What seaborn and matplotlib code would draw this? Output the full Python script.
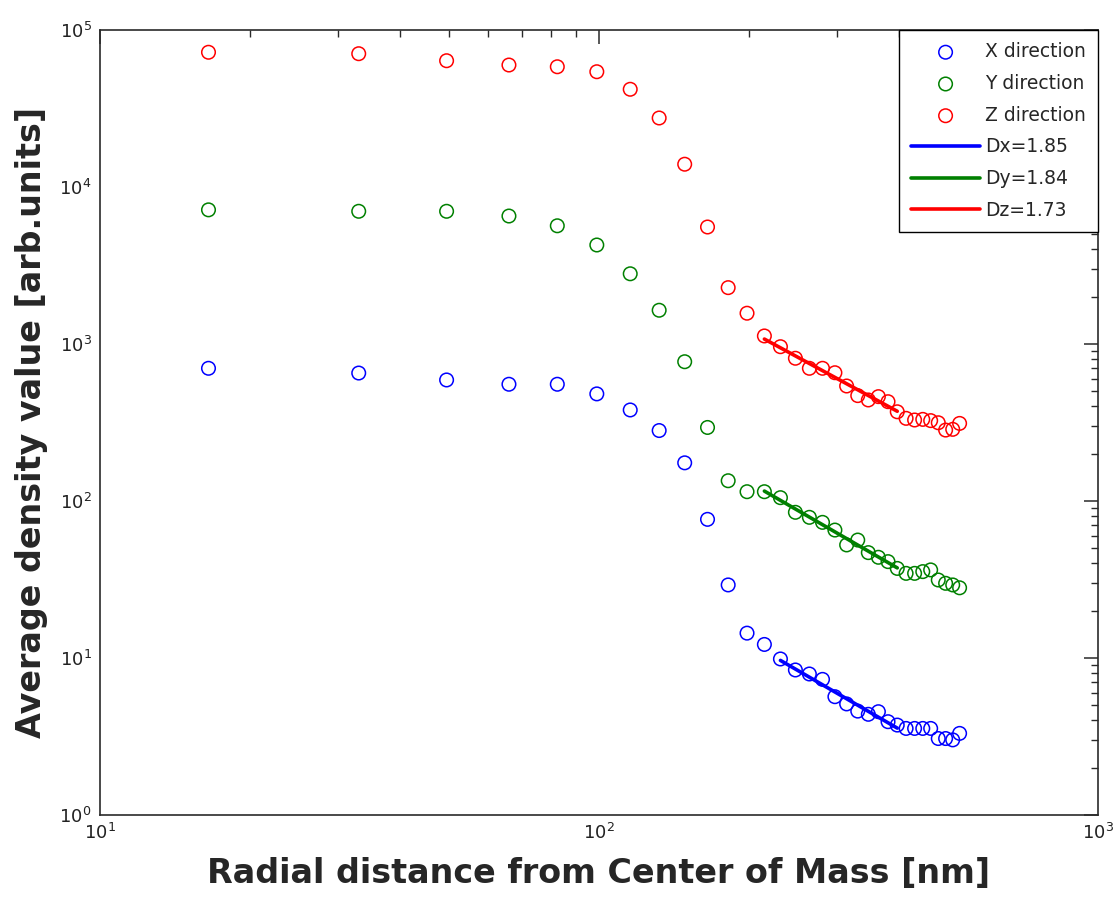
import numpy as np
import pandas as pd
import matplotlib
matplotlib.use("Agg")
import matplotlib.pyplot as plt
import seaborn as sns

# --- data -----------------------------------------------------------------

radius_nm = [16.5, 33, 49.5, 66, 82.5, 99, 115.5, 132, 148.5, 165, 181.5, 198,
             214.5, 231, 247.5, 264, 280.5, 297, 313.5, 330, 346.5, 363, 379.5,
             396, 412.5, 429, 445.5, 462, 478.5, 495, 511.5, 528]

density_x = [700, 653, 590, 554, 554, 481, 380, 281, 175, 76.4, 29.2, 14.4,
             12.2, 9.86, 8.39, 7.91, 7.31, 5.67, 5.10, 4.59, 4.38, 4.55, 3.93,
             3.74, 3.56, 3.56, 3.56, 3.56, 3.07, 3.07, 3.01, 3.31]

density_y = [7150, 7000, 7000, 6530, 5660, 4270, 2800, 1640, 771, 294, 134.6,
             114.6, 114.6, 105, 84.7, 78.7, 73.1, 65.3, 52.5, 56.4, 46.9, 43.8,
             41.1, 37.2, 34.6, 34.6, 35.5, 36.4, 31.4, 29.9, 29.2, 28.0]

density_z = [72100, 70600, 63700, 59800, 58300, 54200, 41900, 27500, 13960,
             5560, 2285, 1570, 1125, 961, 811, 700, 700, 656, 540, 469, 440,
             462, 429, 370, 336, 328, 331, 325, 315, 283, 286, 312]

directions = ["X direction", "Y direction", "Z direction"]
fit_labels = ["Dx=1.85", "Dy=1.84", "Dz=1.73"]
fit_ranges = [(225, 400), (210, 400), (210, 400)]   # nm, radii used in the fit

colors = ["#0000ff", "#008000", "#ff0000"]

# --- figure ----------------------------------------------------------------

sns.set_style("white")
plt.rcParams["font.family"] = ["DejaVu Sans"]
plt.rcParams["mathtext.fontset"] = "dejavusans"

fig = plt.figure(figsize=(11.17, 8.97), dpi=100)
ax = fig.add_axes([0.0895, 0.0914, 0.8935, 0.8752])
ax.set_xscale("log")
ax.set_yscale("log")

r = np.array(radius_nm)
for name, vals, col in zip(directions, [density_x, density_y, density_z], colors):
    sns.scatterplot(x=r, y=vals, ax=ax, marker="o", s=95, color=col,
                    facecolor="none", edgecolor=col, linewidth=1.1,
                    label=name, zorder=3)

for lab, vals, col, (lo, hi) in zip(fit_labels, [density_x, density_y, density_z],
                                    colors, fit_ranges):
    v = np.array(vals)
    m = (r >= lo) & (r <= hi)
    p = np.polyfit(np.log10(r[m]), np.log10(v[m]), 1)
    yfit = 10 ** np.polyval(p, np.log10(r[m]))
    sns.lineplot(x=r[m], y=yfit, ax=ax, color=col, linewidth=2.6,
                 label=lab, zorder=4)

ax.set_xlim(10, 1000)
ax.set_ylim(1, 1e5)

for s in ax.spines.values():
    s.set_color("#2a2a2a")
    s.set_linewidth(1.2)

ax.tick_params(which="both", direction="in", top=True, right=True,
               colors="#2a2a2a", labelcolor="#222222", labelsize=13)
ax.tick_params(which="major", length=10, width=1.1, pad=6)
ax.tick_params(which="minor", length=5, width=1.0)

ax.set_xlabel("Radial distance from Center of Mass [nm]", fontsize=24,
              fontweight="bold", labelpad=10)
ax.set_ylabel("Average density value [arb.units]", fontsize=24,
              fontweight="bold", labelpad=8)

leg = ax.legend(loc="upper right", borderaxespad=0, fontsize=13.5,
                handlelength=3.7, handletextpad=0.25, labelspacing=0.68,
                borderpad=0.65, fancybox=False, framealpha=1,
                edgecolor="black")
leg.get_frame().set_linewidth(1.0)

fig.savefig("out.png", dpi=100)
